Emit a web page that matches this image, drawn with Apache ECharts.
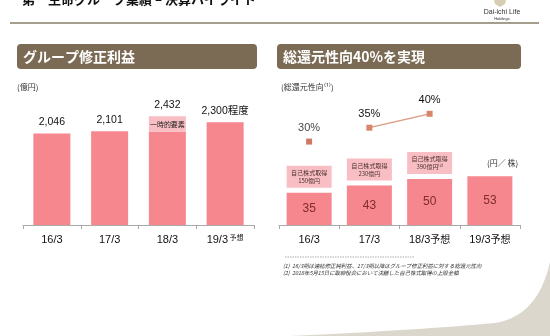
<!DOCTYPE html>
<html>
<head>
<meta charset="utf-8">
<script src="https://cdn.jsdelivr.net/npm/echarts@6/dist/echarts.min.js"></script>
<style>
  html, body { margin: 0; padding: 0; background: #fff; }
  #chart { width: 550px; height: 336px; }
</style>
</head>
<body>
<div id="chart"></div>
<script>
// Group adjusted profit (100 million yen)
const profitCategories = ['16/3', '17/3', '18/3', '19/3予想'];
const profitBase = [2046, 2101, 2090, 2300];
const profitOneOff = [0, 0, 342, 0];
const profitLabels = ['2,046', '2,101', '2,432', '2,300程度'];

// Dividend per share (yen) and total payout ratio (%)
const payoutCategories = ['16/3', '17/3', '18/3予想', '19/3予想'];
const dividends = [35, 43, 50, 53];
const payoutSeparate = [30, '-', '-', '-'];
const payoutLinked = ['-', 35, 40, '-'];
const buybackLabels = ['自己株式取得\n150億円', '自己株式取得\n230億円', '自己株式取得\n390億円⁽²⁾', ''];

const FONT = '"Liberation Sans", "Noto Sans CJK JP", sans-serif';
const JP = '"Noto Sans CJK JP", "Liberation Sans", sans-serif';
const PINK = '#f7878f';
const PINK_LIGHT = '#f9bec3';
const HEADER = '#7b6a54';

const profitTotal = profitBase.map((v, i) => v + profitOneOff[i]);

// sample a chain of quadratic curves into polygon points (page decoration)
function quadPoints(start, segments, steps) {
  const pts = [start];
  let p0 = start;
  segments.forEach(([c, p1]) => {
    for (let s = 1; s <= steps; s++) {
      const t = s / steps, u = 1 - t;
      pts.push([u * u * p0[0] + 2 * u * t * c[0] + t * t * p1[0], u * u * p0[1] + 2 * u * t * c[1] + t * t * p1[1]]);
    }
    p0 = p1;
  });
  return pts;
}
const swoosh = quadPoints([290, 336], [[[420, 330], [495, 323]], [[538, 316], [550, 262]]], 16);
swoosh.push([550, 336]);

const chart = echarts.init(document.getElementById('chart'), null, { renderer: 'canvas' });

function catLabel(superscript) {
  return {
    interval: 0,
    margin: 9,
    formatter: v => {
      const parts = v.split('予想');
      return parts.length > 1 ? '{m|' + parts[0] + '}{s|' + (superscript ? ' ' : '') + '予想}' : '{m|' + v + '}';
    },
    rich: {
      m: { fontSize: 11, color: '#111', fontFamily: FONT },
      s: superscript
        ? { fontSize: 7, color: '#111', fontFamily: JP, padding: [0, 0, 5, 0] }
        : { fontSize: 10, color: '#111', fontFamily: JP }
    }
  };
}

const axisLine = { show: true, lineStyle: { color: '#aaaaaa', width: 1 } };
const axisTick = { show: true, length: 4, lineStyle: { color: '#aaaaaa' } };

chart.setOption({
  animation: false,
  textStyle: { fontFamily: FONT },
  grid: [
    { left: 23, width: 231, top: 91, bottom: 111 },
    { left: 279, width: 241, top: 86, bottom: 111 }
  ],
  xAxis: [
    { type: 'category', gridIndex: 0, data: profitCategories, axisLine, axisTick, axisLabel: catLabel(true) },
    { type: 'category', gridIndex: 1, data: payoutCategories, axisLine, axisTick, axisLabel: catLabel(false) }
  ],
  yAxis: [
    { type: 'value', gridIndex: 0, min: 0, max: 3000, show: false },
    { type: 'value', gridIndex: 1, min: 0, max: 151, show: false },
    { type: 'value', gridIndex: 1, min: 0, max: 50, show: false }
  ],
  series: [
    {
      type: 'bar', xAxisIndex: 0, yAxisIndex: 0, stack: 'profit', barWidth: 37,
      itemStyle: { color: PINK }, data: profitBase, silent: true
    },
    {
      type: 'bar', xAxisIndex: 0, yAxisIndex: 0, stack: 'profit', barWidth: 37,
      itemStyle: { color: PINK_LIGHT }, silent: true,
      data: profitOneOff.map(v => (v ? v : '-')),
      label: {
        show: true, position: 'inside', formatter: '一時的要素',
        fontSize: 7, color: '#222', fontFamily: JP
      }
    },
    {
      type: 'bar', xAxisIndex: 0, yAxisIndex: 0, barWidth: 37, barGap: '-100%',
      itemStyle: { color: 'rgba(0,0,0,0)' }, silent: true, z: 1,
      data: profitTotal,
      label: {
        show: true, position: 'top', distance: 6,
        formatter: p => profitLabels[p.dataIndex],
        fontSize: 10.5, color: '#111', fontFamily: FONT
      }
    },
    {
      type: 'bar', xAxisIndex: 1, yAxisIndex: 1, barWidth: 45,
      itemStyle: { color: PINK }, data: dividends, silent: true,
      label: { show: true, position: 'inside', fontSize: 12, color: '#7e2c2c', fontFamily: FONT }
    },
    {
      type: 'bar', xAxisIndex: 1, yAxisIndex: 1, barWidth: 45, barGap: '-100%',
      itemStyle: { color: 'rgba(0,0,0,0)' }, silent: true, z: 1,
      data: dividends.map((v, i) => ({ value: v, label: { show: buybackLabels[i] !== '' } })),
      label: {
        show: true, position: 'top', distance: 5,
        formatter: p => buybackLabels[p.dataIndex],
        width: 45, lineHeight: 8, padding: [3, 0, 3, 0], align: 'center',
        backgroundColor: PINK_LIGHT,
        fontSize: 6, color: '#4a3030', fontFamily: JP
      }
    },
    {
      type: 'scatter', xAxisIndex: 1, yAxisIndex: 2, symbol: 'rect', symbolSize: 6,
      itemStyle: { color: '#c1583e' }, data: payoutSeparate, silent: true,
      label: { show: true, position: 'top', distance: 5, formatter: p => p.value + '%', fontSize: 11, color: '#111' }
    },
    {
      type: 'line', xAxisIndex: 1, yAxisIndex: 2, symbol: 'rect', symbolSize: 6,
      itemStyle: { color: '#d8866a' }, lineStyle: { color: '#dc9a80', width: 1.3 },
      data: payoutLinked, silent: true,
      label: { show: true, position: 'top', distance: 5, formatter: p => p.value + '%', fontSize: 11, color: '#111' }
    }
  ],
  graphic: [
    // bottom-right page decoration
    {
      type: 'polygon', silent: true, z: -1,
      shape: { points: swoosh },
      style: { fill: '#dcd7cc' }
    },
    // page title and rule
    {
      type: 'text', x: 22, y: -7,
      style: { text: '第一生命グループ業績 – 決算ハイライト', fontSize: 13, fontWeight: 'bold', fill: '#111', fontFamily: JP }
    },
    {
      type: 'rect', shape: { x: 10, y: 22, width: 529, height: 2 }, style: { fill: '#a59d8e' }
    },
    // logo
    {
      type: 'polygon', shape: { points: [[494, 0], [506, 0], [505, 4], [500, 7], [495, 4]] },
      style: { fill: '#d9ccb4' }
    },
    {
      type: 'text', x: 502, y: 12,
      style: { text: 'Dai-ichi Life', fontSize: 7, fill: '#333', align: 'center', verticalAlign: 'middle', fontFamily: FONT }
    },
    {
      type: 'text', x: 502, y: 18.5,
      style: { text: 'Holdings', fontSize: 4, fill: '#333', align: 'center', verticalAlign: 'middle', fontFamily: FONT }
    },
    // panel headers
    {
      type: 'rect', shape: { x: 17, y: 44, width: 240, height: 25, r: 4 }, style: { fill: HEADER }
    },
    {
      type: 'text', x: 23, y: 57,
      style: { text: 'グループ修正利益', fontSize: 14, fontWeight: 'bold', fill: '#fff', verticalAlign: 'middle', fontFamily: JP }
    },
    {
      type: 'rect', shape: { x: 277, y: 44, width: 244, height: 25, r: 4 }, style: { fill: HEADER }
    },
    {
      type: 'text', x: 283, y: 57,
      style: { text: '総還元性向40%を実現', fontSize: 14, fontWeight: 'bold', fill: '#fff', verticalAlign: 'middle', fontFamily: JP }
    },
    // units
    {
      type: 'text', x: 17, y: 87,
      style: { text: '(億円)', fontSize: 8, fill: '#333', verticalAlign: 'middle', fontFamily: JP }
    },
    {
      type: 'text', x: 281, y: 87,
      style: { text: '(総還元性向⁽¹⁾)', fontSize: 8, fill: '#333', verticalAlign: 'middle', fontFamily: JP }
    },
    {
      type: 'text', x: 487, y: 163,
      style: { text: '(円／ 株)', fontSize: 8, fill: '#333', verticalAlign: 'middle', fontFamily: JP }
    },
    // footnotes
    {
      type: 'line', shape: { x1: 285, y1: 257, x2: 414, y2: 257 },
      style: { stroke: '#777', lineWidth: 0.6, lineDash: [1.5, 1] }
    },
    {
      type: 'text', x: 283, y: 266,
      style: {
        text: '(1)  16/3期は連結修正純利益、17/3期以降はグループ修正利益に対する総還元性向',
        fontSize: 5.4, fontStyle: 'italic', fill: '#333', verticalAlign: 'middle', fontFamily: JP
      }
    },
    {
      type: 'text', x: 283, y: 272.5,
      style: {
        text: '(2)  2018年5月15日に取締役会において決議した自己株式取得の上限金額',
        fontSize: 5.4, fontStyle: 'italic', fill: '#333', verticalAlign: 'middle', fontFamily: JP
      }
    }
  ]
});
</script>
</body>
</html>
